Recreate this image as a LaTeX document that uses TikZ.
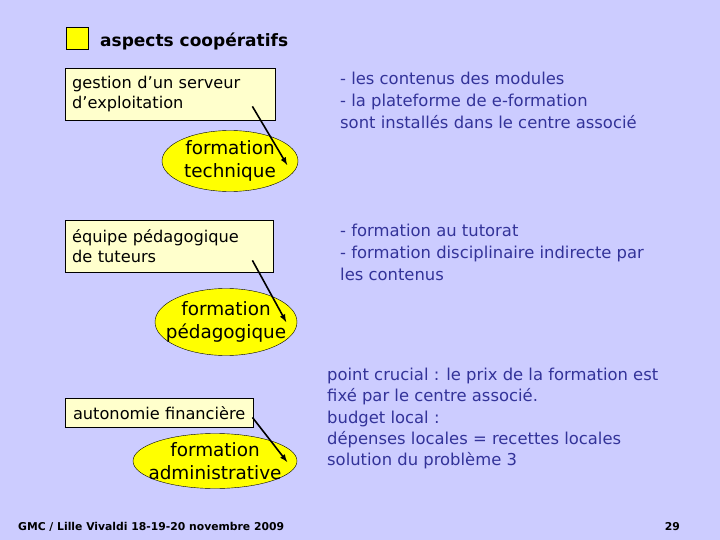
\documentclass[tikz,border=0pt]{standalone}
\usepackage{fontspec}
\setmainfont{DejaVu Sans}
\usetikzlibrary{arrows,shapes.geometric}
\usetikzlibrary{positioning}
\definecolor{slide}{HTML}{CCCCFF}
\definecolor{pale}{HTML}{FFFFCC}
\definecolor{bright}{HTML}{FFFF00}
\definecolor{ink}{HTML}{333399}
\tikzstyle{task} = [rectangle, draw=black, fill=pale, inner sep=0pt, anchor=north west, align=left, font=\fontsize{16.2}{20.5}\selectfont]
\tikzstyle{goal} = [ellipse, draw=black, fill=bright, inner xsep=-10pt, inner ysep=-8pt, align=center, font=\fontsize{18.4}{23.5}\selectfont]
\tikzstyle{note} = [anchor=north west, align=left, inner sep=0pt, text=ink, font=\fontsize{16.4}{22}\selectfont]
\tikzstyle{link} = [-latex, line width=1.6pt]

\begin{document}
\begin{tikzpicture}[x=1pt, y=-1pt]

 \fill[slide] (0,0) rectangle (720,540);
 \useasboundingbox (0,0) rectangle (720,540);

 % titre
 \node (puce) [draw=black, fill=bright, minimum size=22pt, inner sep=0pt, anchor=north west] at (66,27) {};
 \node (titre) [anchor=west, inner sep=0pt, font=\fontsize{17}{20}\selectfont\bfseries] at (100,41) {aspects coopératifs};

 % technique
 \node (gestion) [task, minimum width=210pt, minimum height=52pt, text width=204pt] at (65,68) {\hspace*{4pt}gestion d’un serveur\\ \hspace*{4pt}d’exploitation\\[6pt]};
 \node (tech) [goal, minimum width=136pt, minimum height=61pt] at (230,161) {formation\\technique};
 \node (contenus) [note] at (340,72) {- les contenus des modules\\- la plateforme de e-formation\\sont installés dans le centre associé};

 % pedagogique
 \node (equipe) [task, minimum width=208pt, minimum height=52pt, text width=202pt] at (65,220) {\hspace*{4pt}équipe pédagogique\\ \hspace*{4pt}de tuteurs\\[6pt]};
 \node (peda) [goal, minimum width=142pt, minimum height=67pt] at (226,322) {formation\\pédagogique};
 \node (tutorat) [note] at (340,224) {- formation au tutorat\\- formation disciplinaire indirecte par\\les contenus};

 % administrative
 \node (autonomie) [task, minimum width=188pt, minimum height=29pt, anchor=north west, align=center] at (65,398) {autonomie financière};
 \node (admin) [goal, minimum width=164pt, minimum height=55pt] at (215,461) {formation\\administrative};
 \node (budget) [note, font=\fontsize{16.4}{21.3}\selectfont] at (327,368) {point crucial : le prix de la formation est\\fixé par le centre associé.\\budget local :\\dépenses locales = recettes locales\\solution du problème 3};

 % fleches
 \draw[link] ([xshift=-23pt,yshift=14pt]gestion.south east) -- ([xshift=-11pt,yshift=-4pt]tech.east);
 \draw[link] ([xshift=-21pt,yshift=12pt]equipe.south east) -- ([xshift=-11pt]peda.east);
 \draw[link] ([xshift=-1pt,yshift=10pt]autonomie.south east) -- ([xshift=-10pt,yshift=-1pt]admin.east);

 % pied de page
 \node (pied) [anchor=west, inner sep=0pt, font=\fontsize{10.8}{12}\selectfont\bfseries] at (18,527) {GMC / Lille Vivaldi 18-19-20 novembre 2009};
 \node (page) [anchor=east, inner sep=0pt, font=\fontsize{10.8}{12}\selectfont\bfseries] at (680,527) {29};

\end{tikzpicture}
\end{document}
